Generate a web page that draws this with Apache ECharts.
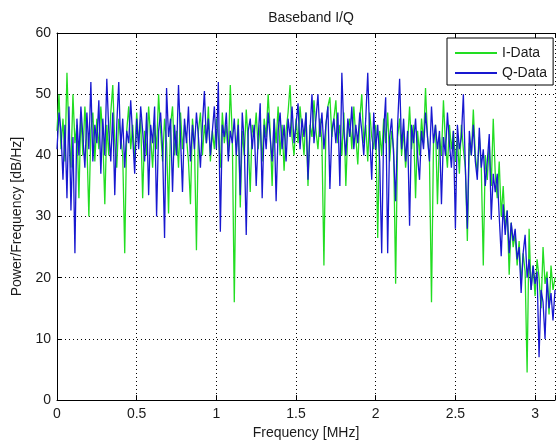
<!DOCTYPE html>
<html>
<head>
<meta charset="utf-8">
<script src="https://cdn.jsdelivr.net/npm/echarts@6/dist/echarts.min.js"></script>
<style>
  html, body { margin: 0; padding: 0; background: #fff; }
  #chart { width: 558px; height: 445px; }
</style>
</head>
<body>
<div id="chart"></div>
<script>
// ---- data ----
const FREQ_STEP_MHZ = 0.0125;   // spacing of the PSD frequency bins
const X_MAX_MHZ = 3.125;

// I-Data power spectral density [dB/Hz], one value per bin
const iData = [
  44, 50, 41, 46, 39, 53.5, 43, 38, 50, 42,
  45, 33, 47, 40, 48, 42, 30, 44, 47, 39,
  46, 41, 48, 43, 32, 45, 40, 47, 51.5, 42,
  38, 46, 43, 40, 24, 44, 48, 41, 45, 39,
  47, 42, 46, 33, 44, 40, 48, 43, 38, 45,
  41, 50, 44, 39, 46, 42, 30.5, 45, 48, 40,
  44, 38, 47, 41, 45, 43, 39, 32, 46, 42,
  24.5, 44, 47, 40, 45, 42, 48, 39, 44, 41,
  46, 43, 38, 47, 42, 45, 40, 51.5, 43, 16,
  41, 46, 31.5, 44, 40, 47.5, 42, 34, 45, 43,
  47, 41, 45, 39, 46, 43, 50, 44, 35, 46,
  42, 48, 40, 45, 37.5, 44, 47, 51.5, 43, 40,
  46, 42, 48, 44, 40, 47, 35, 45, 43, 49,
  44, 41, 46, 42, 22, 45, 48, 49.5, 43, 46,
  49, 42, 45, 40, 47, 35, 44, 46, 41, 48,
  43, 38.5, 46, 50, 42, 45, 39, 47, 43, 41,
  45, 26.5, 44, 40, 46, 42, 47, 39, 44, 41,
  19, 43, 46, 40, 44, 38, 42, 48, 41, 45,
  33, 44, 40, 46, 42, 51, 43, 39, 16, 42,
  45, 32, 43, 40, 49, 42, 38, 45, 41, 44,
  39, 43, 37, 45, 41, 38, 26, 42, 40, 47.5,
  40, 37, 43, 38, 22, 40, 36, 42, 35, 46,
  37, 33, 39, 30, 35, 28, 31, 20.5, 29, 25,
  27, 22, 26, 19, 24, 21, 4.5, 28, 18, 22,
  17, 23, 20, 15, 25, 19, 21, 14, 22, 18, 20
];

// Q-Data power spectral density [dB/Hz]
const qData = [
  41, 47, 44, 36, 45, 33, 48, 31, 43, 24,
  46, 40, 48, 43, 38, 47, 41, 52, 39, 45,
  42, 49, 37, 46, 40, 52.5, 44, 39, 47, 33.5,
  45, 52, 41, 46, 38, 44, 42, 49, 43, 37,
  46, 41, 48, 44, 39, 47, 33.5, 45, 42, 48,
  30, 44, 47, 41, 26.5, 51, 43, 46, 34, 45,
  40, 51.5, 43, 34, 46, 42, 48, 39, 45, 41,
  47, 43, 38, 45, 50.5, 42, 46, 40, 44, 48,
  41, 52, 27.5, 45, 43, 47, 39, 44, 42, 46,
  40, 45, 33.5, 47, 42, 27, 44, 46, 41, 45,
  35, 43, 48.5, 33, 45, 41, 47, 43, 39, 46,
  32.5, 44, 47, 41, 45, 39, 46, 43, 48, 42,
  45, 48.5, 41, 46, 43, 47, 36, 44, 50, 42,
  46, 50, 43, 47, 41, 45, 48, 34.5, 44, 46,
  42, 47, 35, 53.5, 44, 40, 46, 43, 48, 41,
  45, 42, 47, 44, 40, 46, 53.5, 43, 36, 47,
  41, 45, 39, 24, 44, 49.5, 24, 43, 46, 40,
  32.5, 45, 52.5, 41, 46, 39, 44, 28.5, 45, 42,
  46, 40, 36, 44, 41, 47, 43, 39, 48, 42,
  45, 41, 44, 32, 43, 40, 47, 42, 38, 44,
  28, 45, 41, 43, 50, 38, 28, 44, 40, 45,
  39, 36, 44.5, 38, 41, 35, 39, 43.5, 29.5, 37,
  34, 37, 30, 23.5, 32, 27, 31, 24, 29, 26,
  28, 23, 25, 17.5, 24, 27, 20, 23, 18, 22,
  19, 21, 7, 18, 16, 10, 20, 15, 17.5, 13, 18
];

const seriesNames = ['I-Data', 'Q-Data'];
const xTickLabels = ['0', '0.5', '1', '1.5', '2', '2.5', '3'];
const yTickLabels = ['0', '10', '20', '30', '40', '50', '60'];
const titleText = 'Baseband I/Q';
const xName = 'Frequency [MHz]';
const yName = 'Power/Frequency [dB/Hz]';

// ---- build ----
const freqs = iData.map((_, k) => +(k * FREQ_STEP_MHZ).toFixed(4));
const iPairs = iData.map((v, k) => [freqs[k], v]);
const qPairs = qData.map((v, k) => [freqs[k], v]);

const FONT = "'Liberation Sans', Arial, Helvetica, sans-serif";
const TXT = '#1a1a1a';
const dotted = { color: '#000', width: 1, type: [1, 3] };

const chart = echarts.init(document.getElementById('chart'), null, { renderer: 'canvas' });
chart.setOption({
  animation: false,
  backgroundColor: '#fff',
  title: {
    text: titleText,
    left: 306, top: 6, textAlign: 'center',
    textStyle: { fontFamily: FONT, fontSize: 14, fontWeight: 'normal', color: TXT }
  },
  legend: {
    data: seriesNames,
    orient: 'vertical',
    left: 447, top: 38,
    padding: [8, 6, 5, 8],
    itemGap: 6,
    itemWidth: 42, itemHeight: 2,
    icon: 'rect',
    backgroundColor: '#fff',
    borderColor: '#000', borderWidth: 1, borderRadius: 0,
    textStyle: { fontFamily: FONT, fontSize: 14, color: TXT },
    z: 10
  },
  grid: { left: 57, top: 33, right: -2, bottom: 39, containLabel: false },
  xAxis: [{
    type: 'value', min: 0, max: X_MAX_MHZ, interval: 0.5,
    name: xName, nameLocation: 'middle', nameGap: 25,
    nameTextStyle: { fontFamily: FONT, fontSize: 14, color: TXT },
    axisLine: { show: true, onZero: false, lineStyle: { color: '#000', width: 1 } },
    axisTick: { show: true, inside: true, length: 5, lineStyle: { color: '#000' } },
    axisLabel: {
      fontFamily: FONT, fontSize: 14, color: TXT, margin: 7,
      formatter: v => {
        const idx = Math.round(v / 0.5);
        return Math.abs(v - idx * 0.5) < 1e-6 ? (xTickLabels[idx] || '') : '';
      }
    },
    splitLine: { show: true, lineStyle: dotted }
  }, {
    type: 'value', position: 'top', min: 0, max: X_MAX_MHZ, interval: 0.5,
    axisLine: { show: true, onZero: false, lineStyle: { color: '#000', width: 1 } },
    axisTick: { show: true, inside: true, length: 5, lineStyle: { color: '#000' } },
    axisLabel: { show: false },
    splitLine: { show: false }
  }],
  yAxis: {
    type: 'value', min: 0, max: 60, interval: 10,
    name: yName, nameLocation: 'middle', nameGap: 24, nameRotate: 90,
    nameTextStyle: { fontFamily: FONT, fontSize: 14, color: TXT },
    axisLine: { show: true, onZero: false, lineStyle: { color: '#000', width: 1 } },
    axisTick: { show: true, inside: true, length: 5, lineStyle: { color: '#000' } },
    axisLabel: {
      fontFamily: FONT, fontSize: 14, color: TXT, margin: 6,
      formatter: v => yTickLabels[Math.round(v / 10)] || ''
    },
    splitLine: { show: true, lineStyle: dotted }
  },
  series: [{
    name: seriesNames[0], type: 'line', xAxisIndex: 0, data: iPairs,
    showSymbol: false, symbol: 'none',
    color: '#22dd22',
    lineStyle: { width: 1.3, color: '#22dd22' }
  }, {
    name: seriesNames[1], type: 'line', xAxisIndex: 0, data: qPairs,
    showSymbol: false, symbol: 'none',
    color: '#1818d0',
    lineStyle: { width: 1.3, color: '#1818d0' }
  }]
});
</script>
</body>
</html>
